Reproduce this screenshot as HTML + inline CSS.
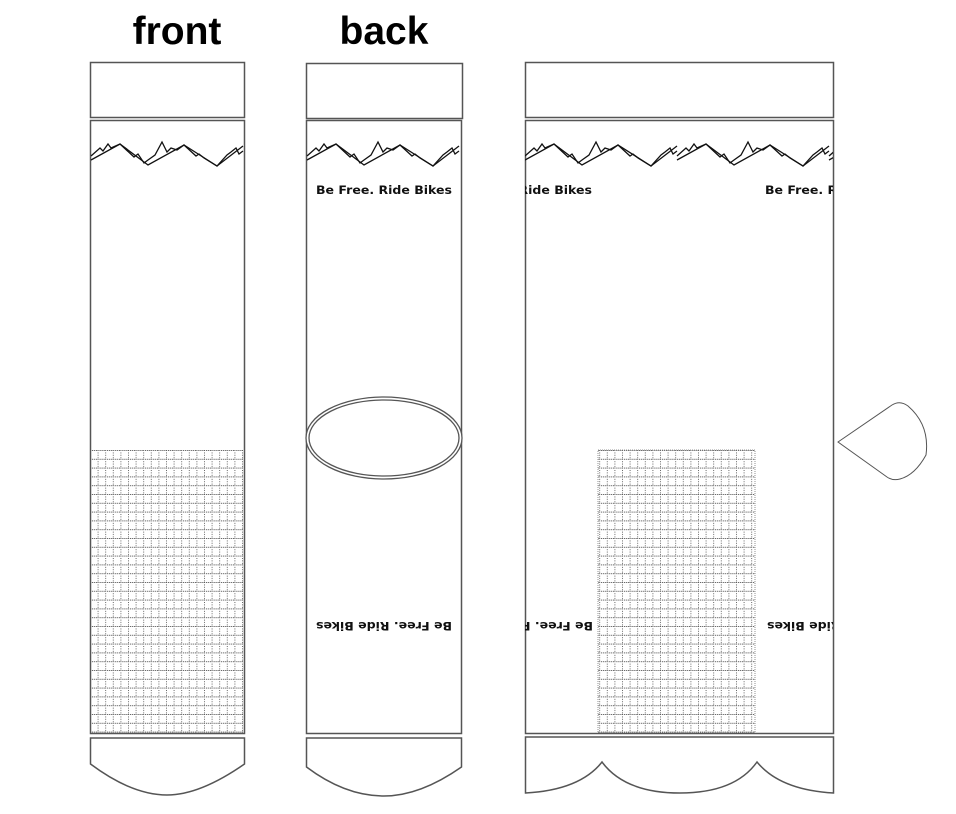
<!DOCTYPE html>
<html><head><style>
html,body{margin:0;padding:0;background:#fff;width:956px;height:814px;overflow:hidden}
svg{display:block}
.t{font-family:"Liberation Sans",sans-serif;font-weight:bold;font-size:39px;fill:#000}
.s{font-family:"DejaVu Sans","Liberation Sans",sans-serif;font-weight:bold;font-size:11.5px;fill:#111}
</style></head><body>
<svg width="956" height="814" viewBox="0 0 956 814" xmlns="http://www.w3.org/2000/svg">
<defs>
<pattern id="g" x="90" y="450" width="7.6" height="8.8" patternUnits="userSpaceOnUse">
<line x1="0" y1="0.5" x2="7.6" y2="0.5" stroke="#444" stroke-width="0.9" stroke-dasharray="1,1"/>
<line x1="0.5" y1="0" x2="0.5" y2="8.8" stroke="#555" stroke-width="0.9" stroke-dasharray="1,1.4"/>
</pattern>
<clipPath id="cr"><rect x="525" y="120" width="308" height="613"/></clipPath>
<g id="mt" fill="none" stroke="#111" stroke-width="1.3">
<polyline points="0,40 29,24 57,45 93,25 126,46 152,26"/>
<polyline points="0,36 9,28 12,31 17,24 20,28 29,24 43,37 47,34 53,43 57,40 64,35 71,22 76,32 80,28 86,30 93,25 105,36 108,34 113,38 126,46 136,35 140,32 145,28 148,34 152,31"/>
</g>
</defs>
<text class="t" x="177" y="44" text-anchor="middle">front</text>
<text class="t" x="384" y="44" text-anchor="middle">back</text>
<g fill="none" stroke="#555" stroke-width="1.5">
<rect x="90.5" y="62.5" width="154" height="55"/>
<rect x="306.5" y="63.5" width="156" height="55"/>
<rect x="525.5" y="62.5" width="308" height="55"/>
</g>
<rect x="90" y="450" width="153" height="283" fill="url(#g)"/>
<rect x="598" y="450" width="157" height="283" fill="url(#g)" stroke="#777" stroke-width="0.8" stroke-dasharray="1,1"/>
<g fill="none" stroke="#555" stroke-width="1.5">
<rect x="90.5" y="120.5" width="154" height="613"/>
<rect x="306.5" y="120.5" width="155" height="613"/>
<rect x="525.5" y="120.5" width="308" height="613"/>
<path d="M90.5,738 H244.5 V764 Q200,795 167,795 Q132,795 90.5,764 Z"/>
<path d="M306.5,738 H461.5 V767 Q420,796 384,796 Q345,796 306.5,767 Z"/>
<path d="M525.5,737 H833.5 V793 Q780,790 757,762 Q735,793 680,793 Q625,793 602,762 Q580,790 525.5,793 Z"/>
<path d="M838,442 L892,405 Q900,400 908,406 Q930,425 926,455 Q915,475 900,479 Q893,481 887,477 Z" stroke-width="1"/>
</g>
<ellipse cx="384" cy="438" rx="78" ry="41" fill="#fff" stroke="#555" stroke-width="1.3"/>
<ellipse cx="384" cy="438" rx="75" ry="38" fill="none" stroke="#555" stroke-width="1.3"/>
<use href="#mt" x="91" y="120"/>
<use href="#mt" x="307" y="120"/>
<g clip-path="url(#cr)">
<use href="#mt" x="525" y="120"/>
<use href="#mt" x="677" y="120"/>
<use href="#mt" x="829" y="120"/>
<text class="s" x="456" y="194" textLength="136" lengthAdjust="spacingAndGlyphs">Be Free. Ride Bikes</text>
<text class="s" x="765" y="194" textLength="136" lengthAdjust="spacingAndGlyphs">Be Free. Ride Bikes</text>
<text class="s" transform="translate(593,622) rotate(180)" textLength="136" lengthAdjust="spacingAndGlyphs">Be Free. Ride Bikes</text>
<text class="s" transform="translate(903,622) rotate(180)" textLength="136" lengthAdjust="spacingAndGlyphs">Be Free. Ride Bikes</text>
</g>
<text class="s" x="316" y="194" textLength="136" lengthAdjust="spacingAndGlyphs">Be Free. Ride Bikes</text>
<text class="s" transform="translate(452,622) rotate(180)" textLength="136" lengthAdjust="spacingAndGlyphs">Be Free. Ride Bikes</text>
</svg>
</body></html>
